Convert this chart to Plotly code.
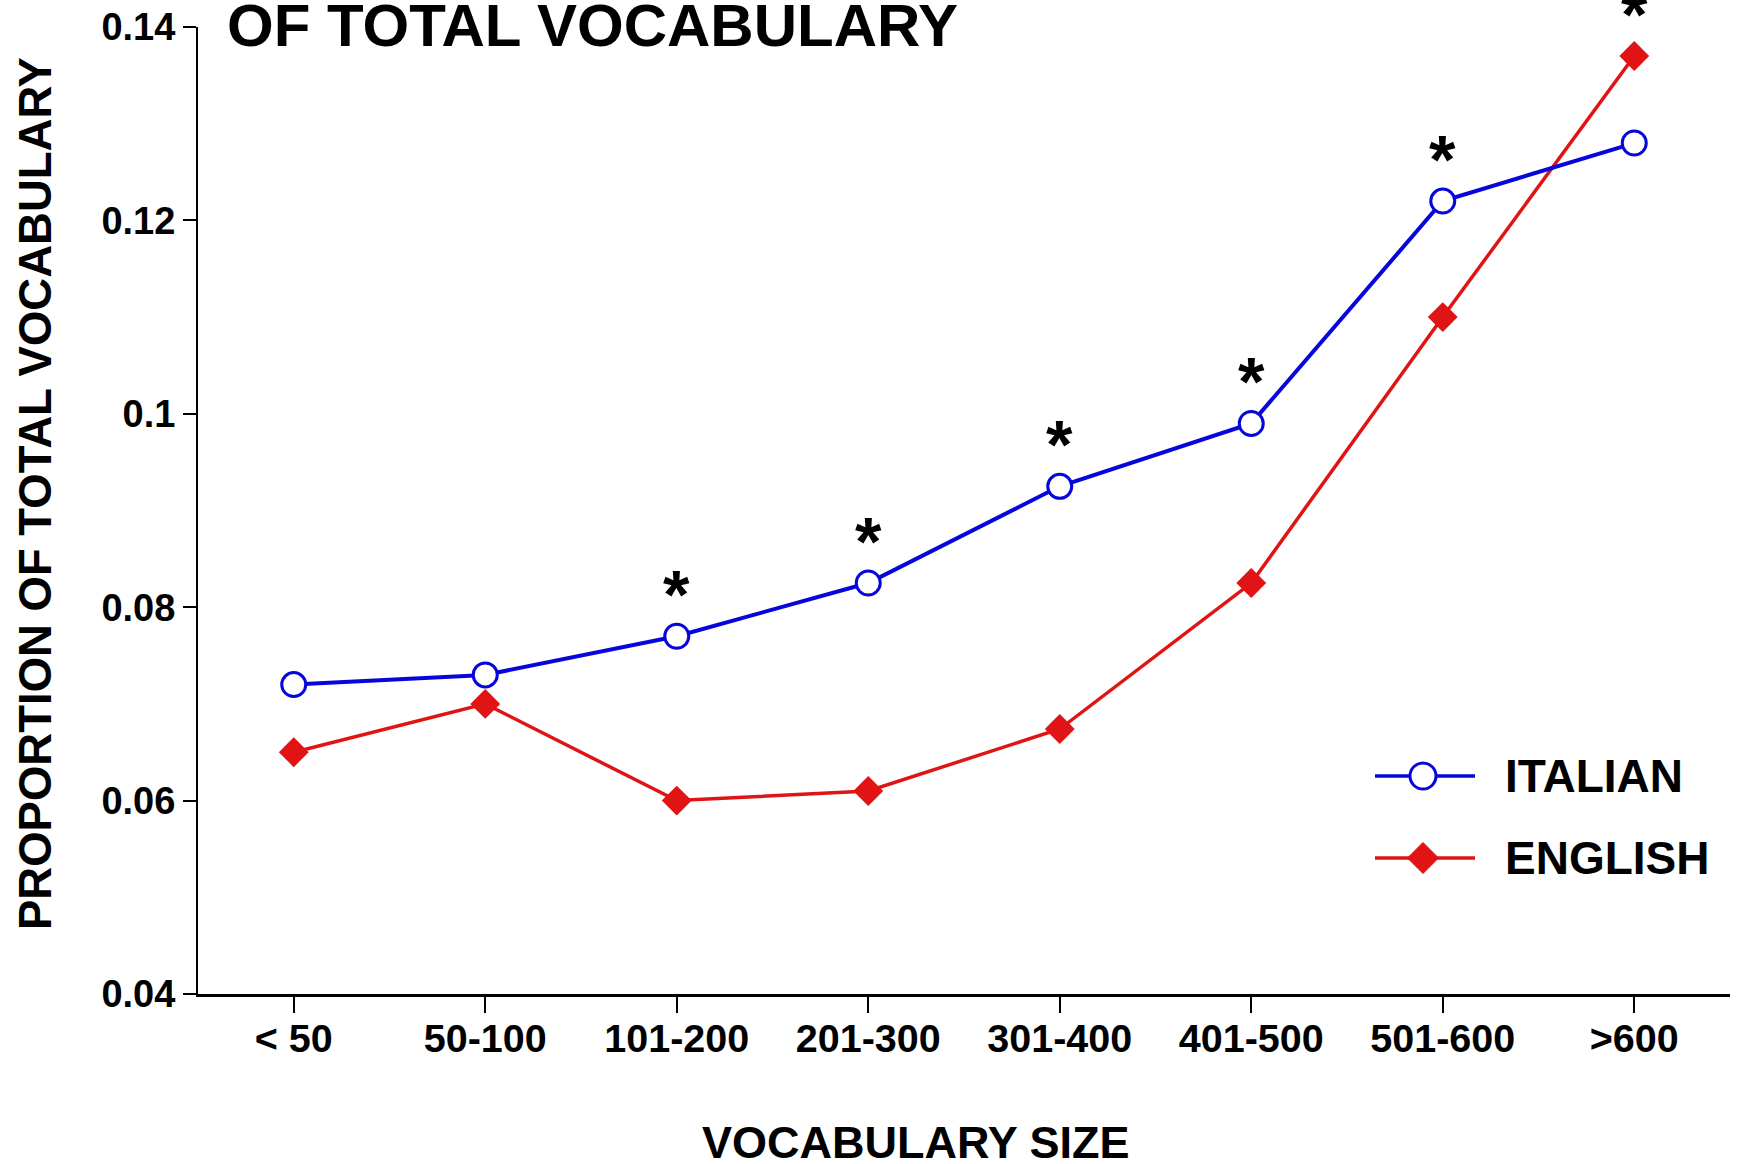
import plotly.graph_objects as go

# ---------------- data ----------------
categories = ["< 50", "50-100", "101-200", "201-300", "301-400", "401-500", "501-600", ">600"]
italian = [0.072, 0.073, 0.077, 0.0825, 0.0925, 0.099, 0.122, 0.128]
english = [0.065, 0.070, 0.060, 0.061, 0.0674, 0.0825, 0.110, 0.137]
significant = [False, False, True, True, True, True, True, True]
y_ticks = [0.04, 0.06, 0.08, 0.10, 0.12, 0.14]
y_tick_labels = ["0.04", "0.06", "0.08", "0.1", "0.12", "0.14"]
series_names = ["ITALIAN", "ENGLISH"]

# ---------------- styling ----------------
W, H = 1741, 1164
PLOT_L, PLOT_R, PLOT_T, PLOT_B = 198, 1730, 27, 994  # target pixel coords of plot area
L, T, R, B = PLOT_L, PLOT_T, W - PLOT_R, H - PLOT_B
PW, PH = PLOT_R - PLOT_L, PLOT_B - PLOT_T
FONT = "Liberation Sans, Arial, Helvetica, sans-serif"
BLUE = "#0606dc"
RED = "#e01414"


def px_x(p):
    return (p - PLOT_L) / PW


def px_y(p):
    return (PLOT_B - p) / PH


xidx = list(range(len(categories)))

fig = go.Figure()
fig.add_trace(go.Scatter(
    x=xidx, y=english, mode="lines+markers", name=series_names[1],
    line=dict(color=RED, width=3.5),
    marker=dict(symbol="diamond", size=23, color=RED, line=dict(width=0)),
    showlegend=False, cliponaxis=False,
))
fig.add_trace(go.Scatter(
    x=xidx, y=italian, mode="lines+markers", name=series_names[0],
    line=dict(color=BLUE, width=4),
    marker=dict(symbol="circle", size=24, color="white", line=dict(color=BLUE, width=3)),
    showlegend=False, cliponaxis=False,
))

annotations = []
# significance asterisks
for i, s in enumerate(significant):
    if s:
        annotations.append(dict(
            x=i, y=max(italian[i], english[i]), xref="x", yref="y",
            text="<b>*</b>", showarrow=False, yanchor="middle", xanchor="center",
            yshift=42, font=dict(family=FONT, size=68, color="black"),
        ))

# partial title (second line visible)
annotations.append(dict(
    x=px_x(225), y=px_y(25.5), xref="paper", yref="paper",
    text="<b>OF TOTAL VOCABULARY</b>", showarrow=False,
    xanchor="left", yanchor="middle", font=dict(family=FONT, size=60, color="black"),
))
# axis titles
annotations.append(dict(
    x=px_x(35), y=px_y(494), xref="paper", yref="paper",
    text="<b>PROPORTION OF TOTAL VOCABULARY</b>", showarrow=False, textangle=-90,
    xanchor="center", yanchor="middle", font=dict(family=FONT, size=45.5, color="black"),
))
annotations.append(dict(
    x=px_x(916), y=px_y(1142), xref="paper", yref="paper",
    text="<b>VOCABULARY SIZE</b>", showarrow=False,
    xanchor="center", yanchor="middle", font=dict(family=FONT, size=45, color="black"),
))

# custom legend
leg_x0, leg_x1, leg_xm = px_x(1375), px_x(1475), px_x(1423)
leg_y = [px_y(776), px_y(858)]
leg_text_x = px_x(1503)
shapes = []
for name, y, col in [(series_names[0], leg_y[0], BLUE), (series_names[1], leg_y[1], RED)]:
    shapes.append(dict(type="line", xref="paper", yref="paper", x0=leg_x0, x1=leg_x1, y0=y, y1=y,
                       line=dict(color=col, width=3.5)))
    annotations.append(dict(
        x=leg_text_x, y=y, xref="paper", yref="paper", text=f"<b>{name}</b>", showarrow=False,
        xanchor="left", yanchor="middle", font=dict(family=FONT, size=46, color="black"),
    ))
shapes.append(dict(type="circle", xref="paper", yref="paper", xsizemode="pixel", ysizemode="pixel",
                   xanchor=leg_xm, yanchor=leg_y[0], x0=-13, x1=13, y0=-13, y1=13,
                   fillcolor="white", line=dict(color=BLUE, width=3)))
shapes.append(dict(type="path", xref="paper", yref="paper", xsizemode="pixel", ysizemode="pixel",
                   xanchor=leg_xm, yanchor=leg_y[1],
                   path="M -15.5 0 L 0 15.5 L 15.5 0 L 0 -15.5 Z",
                   fillcolor=RED, line=dict(color=RED, width=1)))

fig.update_layout(
    width=W, height=H, autosize=False,
    margin=dict(l=L, r=R, t=T, b=B, pad=0, autoexpand=False),
    paper_bgcolor="white", plot_bgcolor="white",
    font=dict(family=FONT, color="black"),
    annotations=annotations, shapes=shapes,
    showlegend=False,
)
fig.update_xaxes(
    automargin=False,
    range=[-0.5, len(categories) - 0.5], tickvals=xidx, ticktext=[f"<b>{c}</b>" for c in categories],
    showline=True, linecolor="black", linewidth=3, showgrid=False, zeroline=False,
    ticks="outside", ticklen=16, tickwidth=1.5, tickcolor="black", ticklabelstandoff=-8,
    tickfont=dict(family=FONT, size=39.5, color="black"),
)
fig.update_yaxes(
    automargin=False,
    range=[0.04, 0.14], tickvals=y_ticks, ticktext=[f"<b>{t}</b>" for t in y_tick_labels],
    showline=True, linecolor="black", linewidth=2, showgrid=False, zeroline=False,
    ticks="outside", ticklen=13, tickwidth=1.5, tickcolor="black",
    tickfont=dict(family=FONT, size=38, color="black"),
)

fig.write_html(
    "out.html",
    config={"displayModeBar": False},
    post_script="document.body.style.margin='0px';document.documentElement.style.overflow='hidden';",
)
